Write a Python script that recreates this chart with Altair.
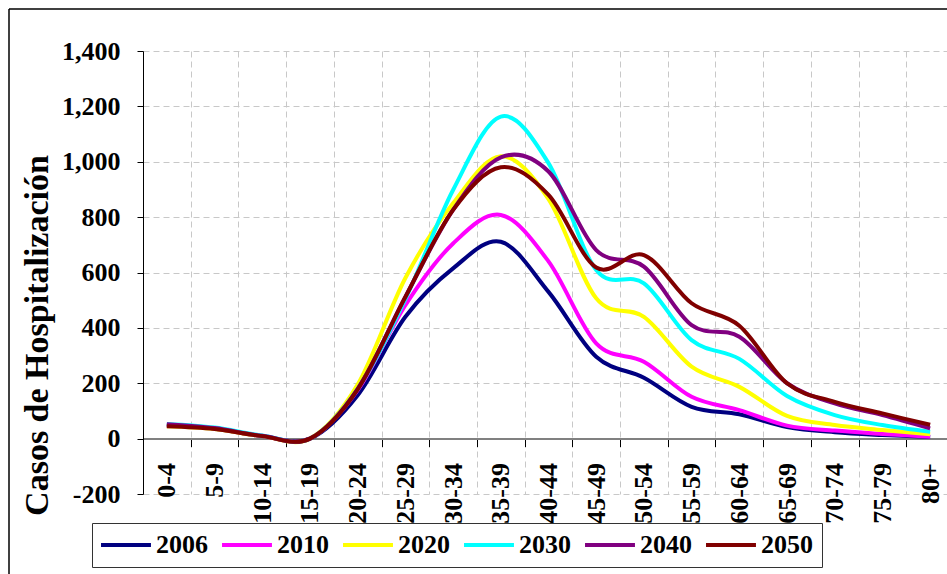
import altair as alt
import pandas as pd

categories = ["0-4", "5-9", "10-14", "15-19", "20-24", "25-29", "30-34", "35-39",
              "40-44", "45-49", "50-54", "55-59", "60-64", "65-69", "70-74", "75-79", "80+"]
years = ["2006", "2010", "2020", "2030", "2040", "2050"]
s2006 = [48, 36, 9, 0, 157, 440, 615, 711, 530, 296, 220, 115, 88, 42, 23, 13, 6]
s2010 = [48, 36, 9, 0, 175, 482, 705, 808, 640, 344, 278, 151, 103, 47, 29, 17, 7]
s2020 = [45, 35, 9, 0, 195, 580, 850, 1020, 865, 507, 440, 260, 187, 82, 49, 31, 16]
s2030 = [53, 40, 11, 0, 180, 504, 898, 1163, 995, 609, 561, 356, 288, 154, 85, 49, 25]
s2040 = [52, 38, 10, 0, 180, 512, 826, 1016, 965, 681, 621, 410, 368, 200, 127, 85, 37]
s2050 = [45, 35, 9, 0, 178, 512, 826, 980, 880, 618, 663, 489, 408, 200, 133, 91, 50]
colors = ["#000080", "#FF00FF", "#FFFF00", "#00FFFF", "#800080", "#800000"]
y_ticks = [-200, 0, 200, 400, 600, 800, 1000, 1200, 1400]

series = [s2006, s2010, s2020, s2030, s2040, s2050]
rows = []
for yr, vals in zip(years, series):
    for c, v in zip(categories, vals):
        rows.append({"Edad": c, "Año": yr, "Casos": v})
df = pd.DataFrame(rows)

W = 804
H = 443
FONT = "Liberation Serif"

lines = alt.Chart(df).mark_line(interpolate="cardinal", strokeWidth=4).encode(
    x=alt.X("Edad:N", sort=categories, bandPosition=0.5,
            scale=alt.Scale(type="band", domain=categories, range=[0, 811],
                            paddingInner=0, paddingOuter=0),
            axis=alt.Axis(title=None, labelAngle=270, labelAlign="right",
                          labelBaseline="middle", labelFont=FONT, labelFontWeight="bold",
                          labelFontSize=26, labelColor="black", labelPadding=16,
                          tickBand="extent", tickSize=8, tickColor="black", tickWidth=1,
                          domainColor="#808080", domainWidth=2,
                          grid=True, gridColor="#c8c8c8", gridDash=[6, 4], gridWidth=1,
                          offset=-55.4, labelOverlap=False)),
    y=alt.Y("Casos:Q",
            scale=alt.Scale(domain=[-200, 1400], nice=False, zero=False),
            axis=alt.Axis(title="Casos de Hospitalización", values=y_ticks,
                          labelExpr="datum.value < 0 ? '-' + format(-datum.value, ',') : format(datum.value, ',')",
                          labelFont=FONT, labelFontWeight="bold", labelFontSize=26,
                          labelColor="black", labelPadding=17,
                          tickSize=6, tickColor="black", domainColor="black", domainWidth=1,
                          grid=True, gridColor="#c8c8c8", gridDash=[6, 4], gridWidth=1,
                          titleFont=FONT, titleFontWeight="bold", titleFontSize=34,
                          titleColor="black", titleAngle=270, titleAlign="center",
                          titleBaseline="middle", titleX=-106, titleY=284)),
    color=alt.Color("Año:N", scale=alt.Scale(domain=years, range=colors),
                    legend=alt.Legend(title=None, orient="none", legendX=-51, legendY=472,
                                      direction="horizontal",
                                      symbolType="M-1.18,0H3.36",
                                      symbolSize=484, symbolStrokeWidth=4,
                                      symbolFillColor="transparent",
                                      labelFont=FONT, labelFontWeight="bold",
                                      labelFontSize=26, labelColor="black",
                                      labelOffset=29, columnPadding=6, padding=9,
                                      strokeColor="#333333", fillColor="white")),
)

border_df = pd.DataFrame({"k": [0]})
left_border = alt.Chart(border_df).mark_rule(color="black", strokeWidth=1.5).encode(
    x=alt.value(-134), y=alt.value(-42), y2=alt.value(560))
top_border = alt.Chart(border_df).mark_rule(color="black", strokeWidth=1.5).encode(
    x=alt.value(-134), x2=alt.value(900), y=alt.value(-42))

chart = alt.layer(lines, left_border, top_border).properties(
    width=W, height=H,
    autosize=alt.AutoSizeParams(type="none"),
    padding={"left": 143, "top": 51, "right": 0, "bottom": 80},
    background="white",
).configure_view(stroke=None)

chart.save("out.html", embed_options={"renderer": "svg", "actions": False})
